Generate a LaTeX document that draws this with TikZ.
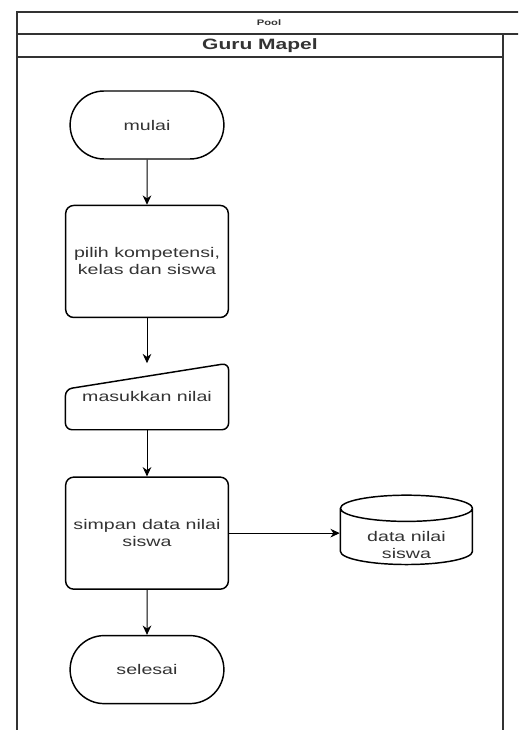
\documentclass[tikz,border=0pt]{standalone}
\usepackage{fontspec}
\setmainfont{Liberation Sans}[FakeStretch=1.4]
\usetikzlibrary{arrows.meta, positioning, shapes.geometric, shapes.misc, calc}
\tikzset{
  terminal/.style={
    rounded rectangle, minimum width=122pt, minimum height=51pt,
    text centered, draw=black, line width=1.1pt
  },
  process/.style={
    rectangle, rounded corners=6pt, minimum width=122pt, minimum height=84pt,
    align=center, draw=black, line width=1.1pt
  },
  manualin/.style={
    rectangle, minimum width=122pt, minimum height=49.5pt, text centered,
    append after command={
      \pgfextra{
        \draw[black, line width=1.1pt, rounded corners=5pt]
          ([yshift=-19.5pt]\tikzlastnode.north west) -- (\tikzlastnode.north east)
          -- (\tikzlastnode.south east) -- (\tikzlastnode.south west) -- cycle;
      }
    }
  },
  store/.style={
    cylinder, shape border rotate=90, aspect=0.3, minimum width=99pt,
    minimum height=52pt, draw=black, line width=1.1pt
  },
  arrow/.style={
    -{Stealth[length=7pt,width=6.5pt]}, line width=0.75pt, color=black
  },
  lanebox/.style={draw=black!80, line width=0.9pt}
}
\newcommand{\storetext}[1]{\raisebox{-8pt}[0pt][0pt]{\begin{tabular}{@{}c@{}}#1\end{tabular}}}

\begin{document}
\begin{tikzpicture}[
  x=0.75pt, y=-0.75pt,
  node distance=33.75pt,
  font=\fontsize{10.5}{12.75}\selectfont, text=black!80
]
\useasboundingbox (0,0) rectangle (518,730);
\clip (0,0) rectangle (518,730);
\draw[lanebox] (17,12) rectangle (521,760);
\draw[lanebox] (17,34) -- (521,34);
\draw[lanebox] (17,57) -- (503,57);
\draw[lanebox] (503,34) -- (503,760);
\node[font=\bfseries\fontsize{6}{7}\selectfont] (pool) at (269,23) {Pool};
\node[font=\bfseries\fontsize{11.25}{13}\selectfont] (lane) at (260,46) {Guru Mapel};
\node[terminal] (mulai) at (147,125) {mulai};
\node[process, below=of mulai] (pilih) {pilih kompetensi,\\kelas dan siswa};
\node[manualin, below=of pilih] (masuk) {masukkan nilai};
\node[process, below=35pt of masuk] (simpan) {simpan data nilai\\siswa};
\node[store, right=83pt of simpan, yshift=-4.5pt] (data) {\storetext{data nilai\\siswa}};
\node[terminal, below=of simpan] (selesai) {selesai};
\draw[arrow] (mulai) -- (pilih);
\draw[arrow] (pilih) -- (masuk);
\draw[arrow] (masuk) -- (simpan);
\draw[arrow] (simpan.east) -- (simpan.east -| data.west);
\draw[arrow] (simpan) -- (selesai);
\end{tikzpicture}
\end{document}
